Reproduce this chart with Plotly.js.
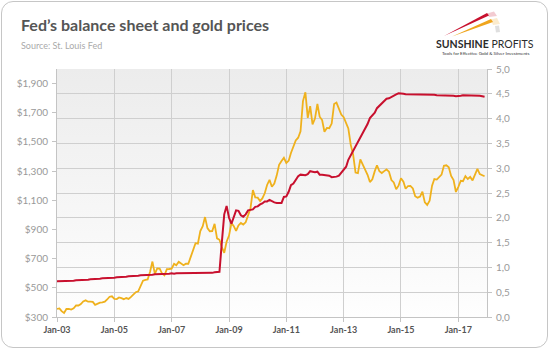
<!DOCTYPE html>
<html><head><meta charset="utf-8">
<script src="https://cdn.plot.ly/plotly-3.0.1.min.js"></script>
<style>
html,body{margin:0;padding:0;background:#fff;}
#wrap{position:relative;width:550px;height:350px;overflow:hidden;background:#fff;}
#frame{position:absolute;left:1px;top:1px;width:547px;height:347px;box-sizing:border-box;border:1.5px solid #c6c6c6;border-radius:12px;}
#bg{position:absolute;left:57px;top:69px;width:430px;height:248px;background:linear-gradient(#ececec,#fefefe);}
#chart{position:absolute;left:0;top:0;width:550px;height:350px;}
</style></head>
<body><div id="wrap"><div id="frame"></div><div id="bg"></div><div id="chart"></div></div>
<script>
// ---- data (monthly, Jan 2003 - Dec 2017) ----
const startYear = 2003, endYear = 2017;
const goldPrice = [
 356,359,340,328,355,356,351,360,379,379,389,407,
 414,405,406,404,383,392,398,400,405,420,439,442,
 424,423,434,429,422,430,424,438,456,470,476,510,
 549,555,557,610,680,596,633,632,598,586,628,629,
 631,665,655,679,667,655,665,665,712,754,806,803,
 889,922,985,909,888,889,939,839,829,780,740,816,
 858,943,924,890,928,945,934,949,996,1043,1170,1120,
 1118,1095,1113,1148,1205,1240,1193,1215,1271,1343,1370,1391,
 1356,1372,1424,1473,1510,1529,1573,1780,1840,1665,1745,1620,
 1660,1760,1673,1650,1570,1596,1594,1626,1760,1770,1721,1688,
 1670,1627,1593,1480,1414,1290,1286,1380,1348,1316,1275,1225,
 1244,1300,1340,1299,1287,1300,1311,1296,1239,1222,1176,1200,
 1251,1227,1179,1198,1199,1181,1128,1118,1125,1159,1086,1068,
 1097,1200,1246,1242,1260,1276,1337,1340,1326,1267,1238,1157,
 1192,1234,1231,1266,1246,1260,1236,1283,1315,1280,1275,1265
];
const fedAssets = [
 0.72,0.72,0.72,0.73,0.73,0.73,0.73,0.73,0.74,0.74,0.75,0.75,
 0.75,0.75,0.76,0.76,0.77,0.77,0.77,0.78,0.78,0.78,0.79,0.79,
 0.79,0.80,0.80,0.80,0.81,0.81,0.82,0.82,0.82,0.83,0.83,0.84,
 0.84,0.84,0.84,0.85,0.85,0.86,0.86,0.86,0.86,0.87,0.87,0.87,
 0.88,0.87,0.88,0.88,0.88,0.88,0.88,0.89,0.89,0.89,0.89,0.89,
 0.89,0.89,0.88,0.88,0.89,0.89,0.90,0.90,0.91,1.50,2.07,2.24,
 2.00,1.88,2.03,2.15,2.14,2.05,2.02,2.07,2.15,2.16,2.17,2.22,
 2.23,2.27,2.29,2.33,2.33,2.36,2.33,2.31,2.30,2.30,2.30,2.42,
 2.43,2.53,2.66,2.69,2.77,2.84,2.87,2.87,2.86,2.88,2.94,2.93,
 2.92,2.93,2.87,2.87,2.86,2.86,2.85,2.82,2.82,2.83,2.85,2.91,
 2.95,3.03,3.17,3.26,3.36,3.44,3.54,3.62,3.70,3.81,3.89,4.01,
 4.06,4.12,4.21,4.26,4.32,4.37,4.40,4.41,4.44,4.47,4.49,4.51,
 4.51,4.50,4.49,4.49,4.49,4.49,4.48,4.49,4.48,4.48,4.48,4.49,
 4.49,4.48,4.48,4.47,4.47,4.47,4.46,4.47,4.47,4.46,4.46,4.45,
 4.45,4.46,4.47,4.47,4.46,4.46,4.46,4.46,4.46,4.46,4.45,4.44
];
const xTickVals = ['2003-01-01','2005-01-01','2007-01-01','2009-01-01','2011-01-01','2013-01-01','2015-01-01','2017-01-01'];
const xTickText = ['Jan-03','Jan-05','Jan-07','Jan-09','Jan-11','Jan-13','Jan-15','Jan-17'];
const leftTickVals = [300,500,700,900,1100,1300,1500,1700,1900];
const leftTickText = ['$300','$500','$700','$900','$1,100','$1,300','$1,500','$1,700','$1,900'];
const rightTickVals = [0,0.5,1,1.5,2,2.5,3,3.5,4,4.5,5];
const rightTickText = ['0,0','0,5','1,0','1,5','2,0','2,5','3,0','3,5','4,0','4,5','5,0'];

const dates = [];
for (let y = startYear; y <= endYear; y++)
  for (let m = 1; m <= 12; m++) dates.push(y + '-' + String(m).padStart(2,'0') + '-01');

// ---- layout helpers ----
const L = 57, R = 63, T = 69, B = 33, W = 550, H = 350;
const PW = W - L - R, PH = H - T - B;
const px = x => (x - L) / PW;
const py = y => (H - B - y) / PH;
const pt = (x, y) => px(x).toFixed(4) + ',' + py(y).toFixed(4);
const path = pts => 'M' + pts.map(p => pt(p[0], p[1])).join(' L') + ' Z';

const font = 'Lato, "Open Sans", sans-serif';

const traces = [
  {x: dates, y: goldPrice, type: 'scatter', mode: 'lines', name: 'Gold',
   line: {color: '#EFB11D', width: 1.8}, yaxis: 'y'},
  {x: dates, y: fedAssets, type: 'scatter', mode: 'lines', name: 'Fed balance sheet',
   line: {color: '#C8102E', width: 2}, yaxis: 'y2'}
];

const layout = {
  width: W, height: H,
  margin: {l: L, r: R, t: T, b: B, pad: 0},
  paper_bgcolor: 'rgba(0,0,0,0)', plot_bgcolor: 'rgba(0,0,0,0)',
  showlegend: false,
  font: {family: font, size: 10, color: '#999'},
  xaxis: {
    type: 'date', range: ['2003-01-01', '2018-01-01'],
    tickvals: xTickVals, ticktext: xTickText,
    tickfont: {family: font, size: 9, color: '#555', weight: 'bold'},
    showgrid: true, gridcolor: '#cfcfcf', gridwidth: 1,
    showline: true, linecolor: '#c4c4c4', linewidth: 1,
    ticks: 'outside', ticklen: 4, tickcolor: '#c4c4c4',
    zeroline: false, fixedrange: true
  },
  yaxis: {
    range: [300, 2000], tickvals: leftTickVals, ticktext: leftTickText,
    tickfont: {family: font, size: 10, color: '#999'},
    showgrid: false, zeroline: false,
    showline: true, linecolor: '#c4c4c4', linewidth: 1,
    ticks: 'outside', ticklen: 4, tickcolor: '#c4c4c4', ticklabelstandoff: 2
  },
  yaxis2: {
    overlaying: 'y', side: 'right',
    range: [0, 5], tickvals: rightTickVals, ticktext: rightTickText,
    tickfont: {family: font, size: 10, color: '#999'},
    showgrid: true, gridcolor: '#cfcfcf', gridwidth: 1, zeroline: false,
    showline: true, linecolor: '#c4c4c4', linewidth: 1,
    ticks: 'outside', ticklen: 4, tickcolor: '#c4c4c4', ticklabelstandoff: 2
  },
  annotations: [
    {text: "Fed’s balance sheet and gold prices", xref: 'paper', yref: 'paper',
     x: px(19), y: py(25), xanchor: 'left', yanchor: 'middle', showarrow: false,
     font: {family: font, size: 16, color: '#555', weight: 'bold'}},
    {text: 'Source: St. Louis Fed', xref: 'paper', yref: 'paper',
     x: px(19), y: py(45), xanchor: 'left', yanchor: 'middle', showarrow: false,
     font: {family: font, size: 9, color: '#aaa'}},
    {text: '<b>SUNSHINE</b> PROFITS', xref: 'paper', yref: 'paper',
     x: px(485), y: py(44), xanchor: 'center', yanchor: 'middle', showarrow: false,
     borderpad: 0, font: {family: font, size: 10.5, color: '#2b2b2b'}},
    {text: 'Tools for Effective Gold &amp; Silver Investments', xref: 'paper', yref: 'paper',
     x: px(485), y: py(53), xanchor: 'center', yanchor: 'middle', showarrow: false,
     borderpad: 0, font: {family: font, size: 4.5, color: '#333'}}
  ],
  shapes: [
    {type: 'path', xref: 'paper', yref: 'paper', path: path([[444,36],[487,13],[489,15.5]]),
     fillcolor: '#C8102E', line: {width: 0}},
    {type: 'path', xref: 'paper', yref: 'paper', path: path([[452,36.5],[491,19],[493,22]]),
     fillcolor: '#EFA51D', line: {width: 0}},
    {type: 'path', xref: 'paper', yref: 'paper', path: path([[487,13.5],[494,11.5],[497,16],[489,17]]),
     fillcolor: 'rgba(200,16,46,0.22)', line: {width: 0}},
    {type: 'path', xref: 'paper', yref: 'paper', path: path([[491,19.5],[497,18],[500,24],[493,25]]),
     fillcolor: 'rgba(239,165,29,0.22)', line: {width: 0}},
    {type: 'path', xref: 'paper', yref: 'paper', path: path([[495,26],[499,25.5],[500,32],[496,32.5]]),
     fillcolor: 'rgba(150,150,150,0.3)', line: {width: 0}}
  ]
};

Plotly.newPlot('chart', traces, layout, {displayModeBar: false, staticPlot: true});
</script>
</body></html>
